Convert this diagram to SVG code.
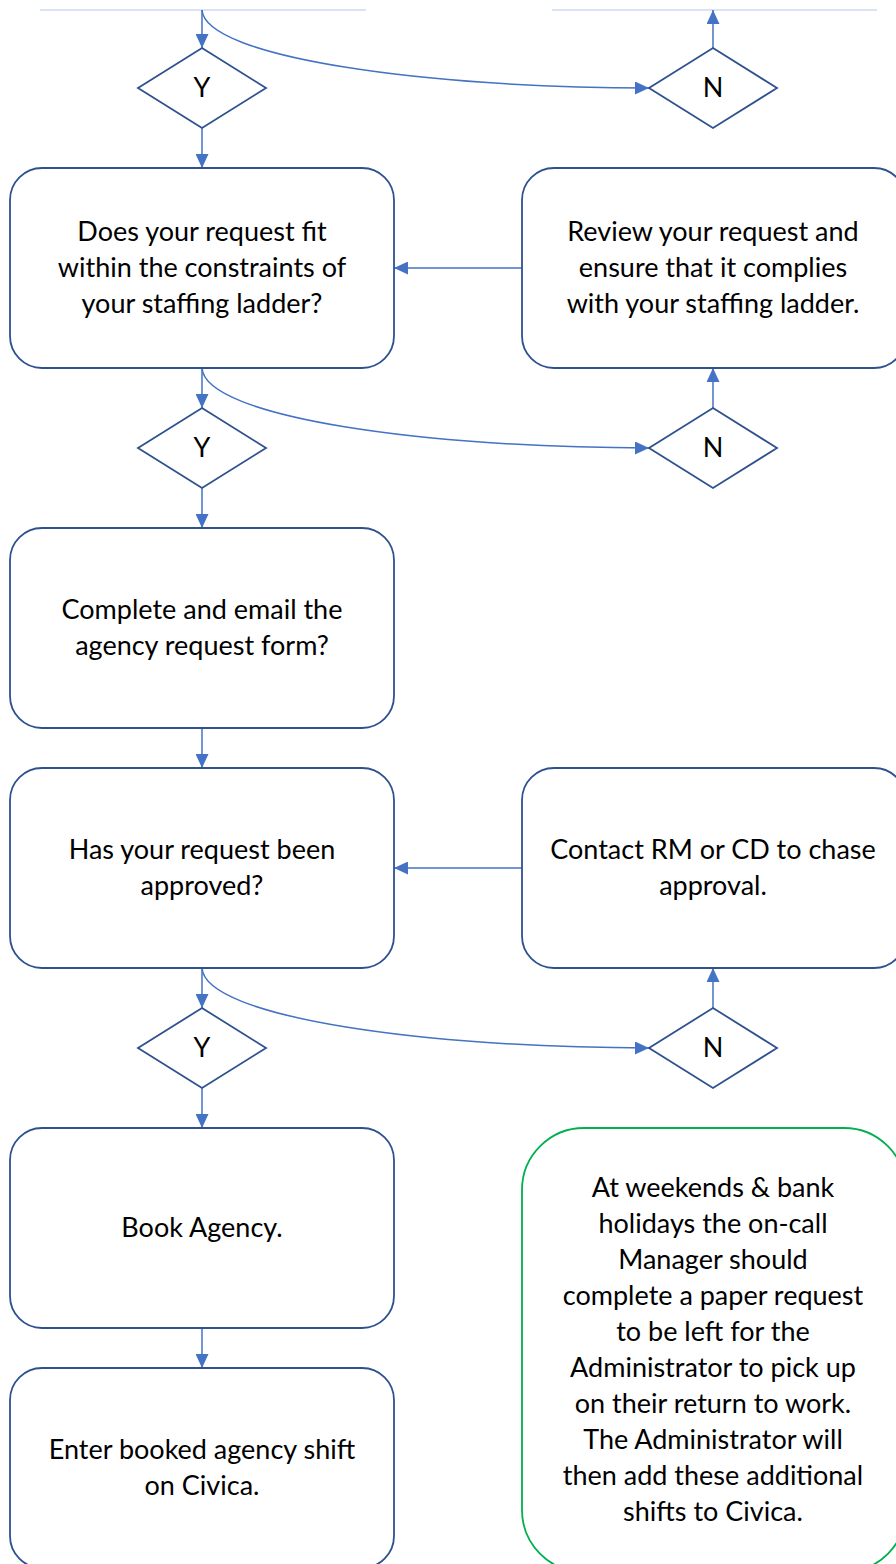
<svg xmlns="http://www.w3.org/2000/svg" width="896" height="1564" viewBox="0 0 896 1564">
<style>
.box{fill:#fff;stroke:#2f528f;stroke-width:1.8}
.note{fill:#fff;stroke:#00b050;stroke-width:1.8}
.dia{fill:#fff;stroke:#2f528f;stroke-width:1.8}
.c{fill:none;stroke:#4472c4;stroke-width:1.5}
.edge{stroke:#b4c7e7;stroke-width:1.2}
text{font-family:Lato,"Liberation Sans",sans-serif;font-size:27px;fill:#000;text-anchor:middle}
</style>
<defs>
<marker id="ah" viewBox="0 0 10 10" refX="10" refY="5" markerWidth="14" markerHeight="13" markerUnits="userSpaceOnUse" orient="auto" preserveAspectRatio="none">
<path d="M0,0 L10,5 L0,10 z" fill="#4472c4"/>
</marker>
</defs>
<rect width="896" height="1564" fill="#fff"/>
<g id="cropped-top">
<line class="edge" x1="40" y1="10" x2="366" y2="10"/>
<line class="edge" x1="552" y1="10" x2="877" y2="10"/>
</g>
<g id="connectors">
<path class="c" d="M202,10 V48" marker-end="url(#ah)"/>
<path class="c" d="M202,10 C205,58 430,88 649,88" marker-end="url(#ah)"/>
<path class="c" d="M713,48 V10" marker-end="url(#ah)"/>
<path class="c" d="M202,128 V168" marker-end="url(#ah)"/>
<path class="c" d="M522,268 H394" marker-end="url(#ah)"/>
<path class="c" d="M202,368 V408" marker-end="url(#ah)"/>
<path class="c" d="M202,368 C205,418 430,448 649,448" marker-end="url(#ah)"/>
<path class="c" d="M713,408 V368" marker-end="url(#ah)"/>
<path class="c" d="M202,488 V528" marker-end="url(#ah)"/>
<path class="c" d="M202,728 V768" marker-end="url(#ah)"/>
<path class="c" d="M522,868 H394" marker-end="url(#ah)"/>
<path class="c" d="M202,968 V1008" marker-end="url(#ah)"/>
<path class="c" d="M202,968 C205,1018 430,1048 649,1048" marker-end="url(#ah)"/>
<path class="c" d="M713,1008 V968" marker-end="url(#ah)"/>
<path class="c" d="M202,1088 V1128" marker-end="url(#ah)"/>
<path class="c" d="M202,1328 V1368" marker-end="url(#ah)"/>
</g>
<g id="y1"><path class="dia" d="M202,48 L266,88 L202,128 L138,88 Z"/><text x="202" y="97">Y</text></g>
<g id="n1"><path class="dia" d="M713,48 L777,88 L713,128 L649,88 Z"/><text x="713" y="97">N</text></g>
<g id="fit">
<rect class="box" x="10" y="168" width="384" height="200" rx="32"/>
<text x="202" y="241">Does your request fit</text>
<text x="202" y="277">within the constraints of</text>
<text x="202" y="313">your staffing ladder?</text>
</g>
<g id="review">
<rect class="box" x="522" y="168" width="384" height="200" rx="32"/>
<text x="713" y="241">Review your request and</text>
<text x="713" y="277">ensure that it complies</text>
<text x="713" y="313">with your staffing ladder.</text>
</g>
<g id="y2"><path class="dia" d="M202,408 L266,448 L202,488 L138,448 Z"/><text x="202" y="457">Y</text></g>
<g id="n2"><path class="dia" d="M713,408 L777,448 L713,488 L649,448 Z"/><text x="713" y="457">N</text></g>
<g id="complete">
<rect class="box" x="10" y="528" width="384" height="200" rx="32"/>
<text x="202" y="619">Complete and email the</text>
<text x="202" y="655">agency request form?</text>
</g>
<g id="approved">
<rect class="box" x="10" y="768" width="384" height="200" rx="32"/>
<text x="202" y="859">Has your request been</text>
<text x="202" y="895">approved?</text>
</g>
<g id="contact">
<rect class="box" x="522" y="768" width="384" height="200" rx="32"/>
<text x="713" y="859">Contact RM or CD to chase</text>
<text x="713" y="895">approval.</text>
</g>
<g id="y3"><path class="dia" d="M202,1008 L266,1048 L202,1088 L138,1048 Z"/><text x="202" y="1057">Y</text></g>
<g id="n3"><path class="dia" d="M713,1008 L777,1048 L713,1088 L649,1048 Z"/><text x="713" y="1057">N</text></g>
<g id="book">
<rect class="box" x="10" y="1128" width="384" height="200" rx="32"/>
<text x="202" y="1237">Book Agency.</text>
</g>
<g id="enter">
<rect class="box" x="10" y="1368" width="384" height="200" rx="32"/>
<text x="202" y="1459">Enter booked agency shift</text>
<text x="202" y="1495">on Civica.</text>
</g>
<g id="weekend-note">
<rect class="note" x="522" y="1128" width="384" height="444" rx="62"/>
<text x="713" y="1197">At weekends &amp; bank</text>
<text x="713" y="1233">holidays the on-call</text>
<text x="713" y="1269">Manager should</text>
<text x="713" y="1305">complete a paper request</text>
<text x="713" y="1341">to be left for the</text>
<text x="713" y="1377">Administrator to pick up</text>
<text x="713" y="1413">on their return to work.</text>
<text x="713" y="1449">The Administrator will</text>
<text x="713" y="1485">then add these additional</text>
<text x="713" y="1521">shifts to Civica.</text>
</g>
</svg>
